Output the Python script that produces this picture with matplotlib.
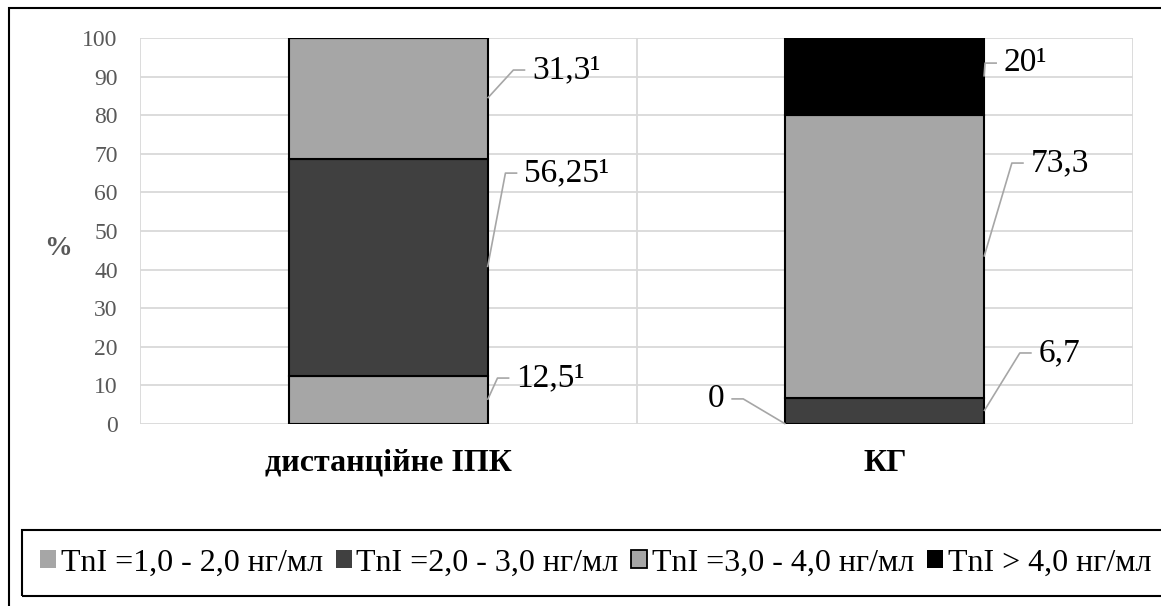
import matplotlib
matplotlib.use('Agg')
import matplotlib.pyplot as plt
from matplotlib.patches import Patch, Rectangle
import numpy as np

plt.rcParams['font.family'] = ['Liberation Serif', 'DejaVu Serif']

# data
categories = ['дистанційне ІПК', 'КГ']
series_names = ['TnI =1,0 - 2,0 нг/мл', 'TnI =2,0 - 3,0 нг/мл',
                'TnI =3,0 - 4,0 нг/мл', 'TnI > 4,0 нг/мл']
s1 = [12.5, 0]
s2 = [56.25, 6.7]
s3 = [31.3, 73.3]
s4 = [0, 20]
series = [s1, s2, s3, s4]
label_text = [['12,5¹', '0'], ['56,25¹', '6,7'], ['31,3¹', '73,3'], [None, '20¹']]
y_ticks = list(range(0, 101, 10))

# styles
colors = ['#A6A6A6', '#404040', '#A6A6A6', '#000000']
legend_edges = ['none', 'none', '#000000', 'none']
grid_c = '#D9D9D9'
lead_c = '#A6A6A6'
bar_w = 0.4

# leader elbow (dx from bar edge, y) for each label, side +1 right / -1 left
label_pos = {
    (0, 0): (0.020, 11.9, 1), (0, 1): (-0.085, 6.5, -1),
    (1, 0): (0.036, 65.0, 1), (1, 1): (0.072, 18.4, 1),
    (2, 0): (0.052, 91.7, 1), (2, 1): (0.056, 67.6, 1),
    (3, 1): (0.002, 93.5, 1),
}

W, H = 1161, 606
fig = plt.figure(figsize=(W / 100, H / 100), dpi=100)
ax = fig.add_axes([140 / W, 1 - 424 / H, (1133 - 140) / W, (424 - 38) / H])

x = np.arange(len(categories))
bottom = np.zeros(len(categories))
for i, vals in enumerate(series):
    ax.bar(x, vals, bar_w, bottom=bottom, color=colors[i], edgecolor='black',
           linewidth=1.5, zorder=3)
    for j, v in enumerate(vals):
        key = (i, j)
        if key in label_pos and label_text[i][j] is not None:
            dx, ey, side = label_pos[key]
            mid = bottom[j] + v / 2
            if side > 0:
                x0 = x[j] + bar_w / 2
            else:
                x0 = x[j] - bar_w / 2
            ex = x0 + dx
            hx = ex + side * 0.024
            ax.plot([x0, ex, hx], [mid, ey, ey], color=lead_c, lw=1.2,
                    zorder=4, clip_on=False, solid_capstyle='butt')
            ax.text(hx + side * 0.014, ey, label_text[i][j], fontsize=24,
                    ha='left' if side > 0 else 'right', va='center',
                    color='black', zorder=5)
    bottom += np.array(vals)

ax.set_xlim(-0.5, 1.5)
ax.set_ylim(0, 100)
ax.set_yticks(y_ticks)
for t in y_ticks:
    ax.axhline(t, color=grid_c, lw=1.3, zorder=1)
for v in [-0.5, 0.5, 1.5]:
    ax.axvline(v, color=grid_c, lw=1.3, zorder=1)
for s in ax.spines.values():
    s.set_visible(False)
ax.tick_params(axis='y', length=0, labelsize=17, labelcolor='#595959', pad=16)
ax.set_xticks(x)
ax.set_xticklabels(categories, fontsize=23, fontweight='bold')
ax.tick_params(axis='x', length=0, pad=18)
fig.text(58 / W, 1 - 249 / H, '%', fontsize=20, fontweight='bold',
         color='#595959', ha='center', va='center')

# legend
handles = [Patch(facecolor=colors[i], edgecolor=legend_edges[i], lw=1.3)
           for i in range(4)]
fig.patches.append(Rectangle((22 / W, 1 - 596 / H), 1.2, 66 / H,
                             transform=fig.transFigure, fill=False,
                             edgecolor='black', lw=1.5))
fig.legend(handles, series_names, ncol=4, loc='center left',
           bbox_to_anchor=(40 / W, 1 - 563 / H), frameon=False, fontsize=23,
           handlelength=0.5, handleheight=0.5, handletextpad=0.15,
           columnspacing=0.4, borderpad=0, borderaxespad=0)

# outer frame
fig.patches.append(Rectangle((9 / W, -0.1), 1.2, 1.1 - 8 / H,
                             transform=fig.transFigure, fill=False,
                             edgecolor='black', lw=1.5))

fig.savefig('out.png', dpi=100)
